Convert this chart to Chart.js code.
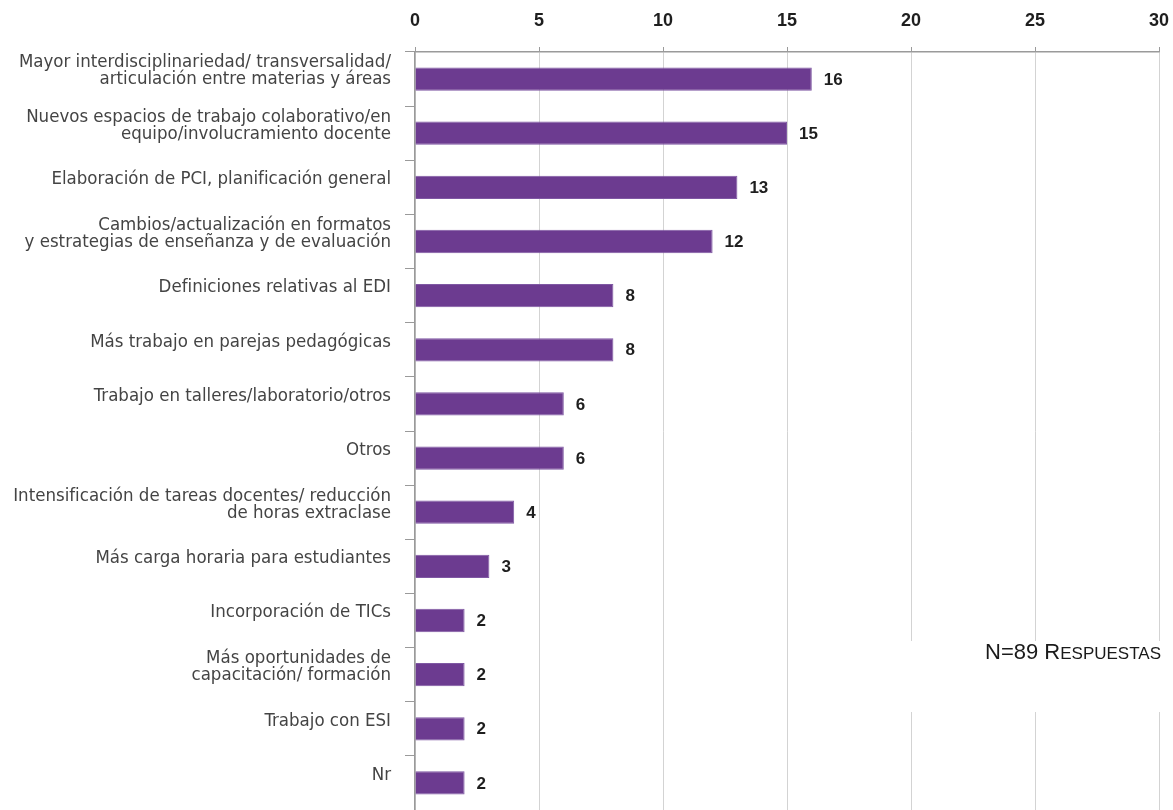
<!DOCTYPE html>
<html lang="es">
<head>
<meta charset="utf-8">
<title>Cambios en la institución</title>
<script src="https://cdn.jsdelivr.net/npm/chart.js@4/dist/chart.umd.min.js"></script>
<style>
  html, body { margin: 0; padding: 0; background: #fff; }
  #wrap { width: 1173px; height: 810px; position: relative; }
</style>
</head>
<body>
<div id="wrap"><canvas id="chartCambios"></canvas></div>
<script>
// categorias (etiquetas de varias lineas van como arrays)
const categorias = [
  ['Mayor interdisciplinariedad/ transversalidad/', 'articulación entre materias y áreas'],
  ['Nuevos espacios de trabajo colaborativo/en', 'equipo/involucramiento docente'],
  'Elaboración de PCI, planificación general',
  ['Cambios/actualización en formatos', 'y estrategias de enseñanza y de evaluación'],
  'Definiciones relativas al EDI',
  'Más trabajo en parejas pedagógicas',
  'Trabajo en talleres/laboratorio/otros',
  'Otros',
  ['Intensificación de tareas docentes/ reducción', 'de horas extraclase'],
  'Más carga horaria para estudiantes',
  'Incorporación de TICs',
  ['Más oportunidades de', 'capacitación/ formación'],
  'Trabajo con ESI',
  'Nr'
];
const respuestas = [16, 15, 13, 12, 8, 8, 6, 6, 4, 3, 2, 2, 2, 2];
const ticksX = [0, 5, 10, 15, 20, 25, 30];
const nota = ['N=89 R', 'espuestas'];

// numero al final de cada barra
const valoresBarra = {
  id: 'valoresBarra',
  afterDatasetsDraw(chart) {
    const ctx = chart.ctx;
    const meta = chart.getDatasetMeta(0);
    ctx.save();
    ctx.font = 'bold 17px "Liberation Sans", Arial, sans-serif';
    ctx.fillStyle = '#1e1e1e';
    ctx.textAlign = 'left';
    ctx.textBaseline = 'middle';
    meta.data.forEach((bar, i) => {
      ctx.fillText(String(respuestas[i]), bar.x + 12, bar.y + 1);
    });
    ctx.restore();
  }
};

// recuadro con el total de respuestas
const notaTotal = {
  id: 'notaTotal',
  afterDraw(chart) {
    const ctx = chart.ctx;
    ctx.save();
    ctx.fillStyle = '#fff';
    ctx.fillRect(900, 641, 273, 71);
    ctx.fillStyle = '#1a1a1a';
    ctx.textBaseline = 'alphabetic';
    ctx.textAlign = 'left';
    let x = 985;
    const y = 659;
    ctx.font = '22px "Liberation Sans", Arial, sans-serif';
    ctx.fillText(nota[0], x, y);
    x += ctx.measureText(nota[0]).width;
    ctx.font = '17px "Liberation Sans", Arial, sans-serif';
    ctx.fillText(nota[1].toUpperCase(), x, y);
    ctx.restore();
  }
};

const canvasCambios = document.getElementById('chartCambios');
const configCambios = {
  type: 'bar',
  data: {
    labels: categorias,
    datasets: [
      {
        label: 'Respuestas',
        data: respuestas,
        backgroundColor: '#6c3b90',
        borderColor: '#7f58a3',
        borderWidth: 1,
        categoryPercentage: 1,
        barPercentage: 0.43,
      },
    ],
  },
  options: {
    indexAxis: 'y',
    responsive: true,
    maintainAspectRatio: false,
    animation: false,
    layout: { padding: 0 },
    plugins: {
      legend: { display: false },
      tooltip: { enabled: false },
    },
    scales: {
      x: {
        position: 'top',
        min: 0,
        max: 30,
        afterBuildTicks: (scale) => {
          scale.ticks = ticksX.map((v) => ({ value: v }));
        },
        afterFit: (scale) => {
          scale.height = 52;
          scale.paddingLeft = 0;
          scale.paddingRight = 14;
        },
        grid: {
          color: '#d3d3d3',
          tickColor: '#9a9a9a',
          tickLength: 5,
        },
        border: { color: '#9a9a9a', width: 1.5 },
        ticks: {
          color: '#1e1e1e',
          padding: 15,
          maxRotation: 0,
          font: { family: '"Liberation Sans", Arial, sans-serif', size: 18, weight: 'bold' },
        },
      },
      y: {
        afterFit: (scale) => {
          scale.width = 415;
          scale.paddingTop = 0;
          scale.paddingBottom = 0;
        },
        grid: {
          drawOnChartArea: false,
          tickColor: '#9a9a9a',
          tickLength: 10,
        },
        border: { color: '#9a9a9a', width: 1.5 },
        ticks: {
          color: '#444',
          padding: 14,
          labelOffset: -8,
          autoSkip: false,
          font: { family: '"Liberation Sans Narrow", "DejaVu Sans Condensed", sans-serif', size: 18.5, lineHeight: 0.92 },
        },
      },
    },
  },
  plugins: [valoresBarra, notaTotal],
};

const chartCambios = new Chart(canvasCambios, configCambios);
</script>
</body>
</html>
